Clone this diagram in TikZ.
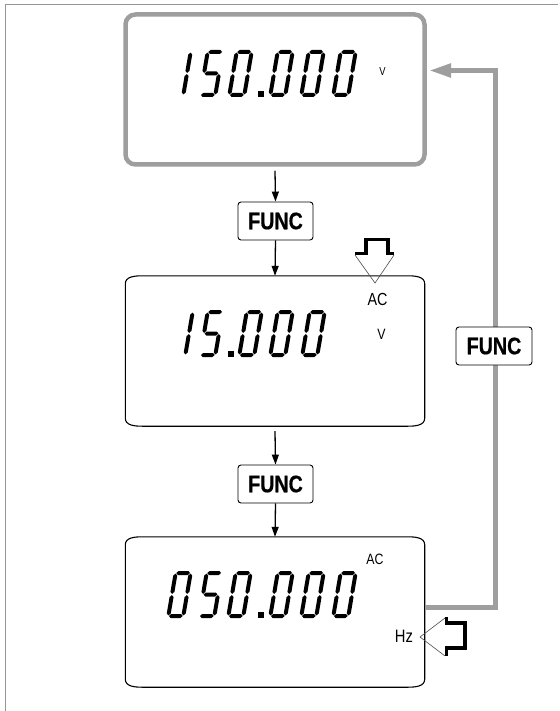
\documentclass[tikz,border=0pt]{standalone}
\usepackage{fontspec}
\newfontfamily\condsans[FakeStretch=0.82]{Liberation Sans}
\newfontfamily\condbold[FakeStretch=0.82,FakeBold=0.5]{Liberation Sans Bold}
\usetikzlibrary{arrows.meta}
\definecolor{framegray}{RGB}{150,150,150}
\definecolor{linegray}{RGB}{158,158,158}
% seven-segment pieces (upright cell 19 x 47, origin bottom-left, y up)
\newcommand{\segA}{\fill (2.6,45)--(4.6,47)--(14.4,47)--(16.4,45)--(14.4,43)--(4.6,43)--cycle;}
\newcommand{\segG}{\fill (2.6,23.5)--(4.6,25.5)--(14.4,25.5)--(16.4,23.5)--(14.4,21.5)--(4.6,21.5)--cycle;}
\newcommand{\segD}{\fill (2.6,2)--(4.6,4)--(14.4,4)--(16.4,2)--(14.4,0)--(4.6,0)--cycle;}
\newcommand{\segF}{\fill (2,24.1)--(4,26.1)--(4,42.4)--(2,44.4)--(0,42.4)--(0,26.1)--cycle;}
\newcommand{\segE}{\fill (2,2.6)--(4,4.6)--(4,20.9)--(2,22.9)--(0,20.9)--(0,4.6)--cycle;}
\newcommand{\segB}{\fill (17,24.1)--(19,26.1)--(19,42.4)--(17,44.4)--(15,42.4)--(15,26.1)--cycle;}
\newcommand{\segC}{\fill (17,2.6)--(19,4.6)--(19,20.9)--(17,22.9)--(15,20.9)--(15,4.6)--cycle;}
\newcommand{\sevdig}[3]{\begin{scope}[shift={(#1,#2)},y=1pt,xslant=0.17]#3\end{scope}}
\newcommand{\dZero}{\segA\segB\segC\segD\segE\segF}
\newcommand{\dOne}{\segB\segC}
\newcommand{\dFive}{\segA\segF\segG\segC\segD}
\newcommand{\sevdot}[2]{\fill (#1,#2) rectangle ++(6,-6);}
\newcommand{\lcdframe}[1]{\draw[line width=1.1] ([yshift=-8]#1.north west) to[out=90,in=180] ([xshift=17]#1.north west) -- ([xshift=-17]#1.north east) to[out=0,in=90] ([yshift=-8]#1.north east) -- ([yshift=8]#1.south east) to[out=-90,in=0] ([xshift=-17]#1.south east) -- ([xshift=17]#1.south west) to[out=180,in=-90] ([yshift=8]#1.south west) -- cycle;}
\tikzset{
  lcd/.style={minimum width=299, minimum height=150, inner sep=0, draw=none},
  funckey/.style={draw=black, line width=0.9, rounded corners=3, fill=white, minimum width=75, minimum height=38, inner sep=0, font=\condbold\fontsize{24}{24}\selectfont},
  arr/.style={line width=1.3, -{Triangle[length=10pt,width=7pt]}},
  fb/.style={line width=5, draw=linegray, -{Triangle[length=22pt,width=13pt,fill=linegray]}},
  lbl/.style={inner sep=0},
  sigline/.style={line width=3.2, line join=miter},
  hollow/.style={line width=0.6, draw=black!70}
}
\begin{document}
\begin{tikzpicture}[x=1pt,y=-1pt]
\useasboundingbox (0,0) rectangle (559,711);
\fill[white] (0,0) rectangle (559,711);
% frame
\draw[framegray, line width=1] (5,711) -- (5,5) -- (558,5);
% displays
\node[lcd, draw=linegray, line width=4.5, rounded corners=10] (d1) at (275,89.5) {};
\node[lcd] (d2) at (275,351) {};
\node[lcd] (d3) at (275,612) {};
\lcdframe{d2}
\lcdframe{d3}
% keys
\node[funckey] (f1) at (275.5,221) {FUNC};
\node[funckey] (f2) at (275.5,484) {FUNC};
% arrows
\draw[arr] ([yshift=-4]d1.south) -- (f1.north);
\draw[arr] (f1.south) -- (d2.north);
\draw[arr] ([yshift=-5]d2.south) -- (f2.north);
\draw[arr] (f2.south) -- (d3.north);
% feedback loop
\coordinate (fbturnA) at (495,607.5);
\coordinate (fbturnB) at (495,70.5);
\coordinate (fbtip) at (429,70.5);
\draw[fb] ([yshift=4.5]d3.east) -- (fbturnA) -- (fbturnB) -- (fbtip);
\node[funckey, minimum width=76] (f3) at (494,346) {FUNC};
% digits 150.000
\sevdig{166}{97}{\dOne}
\sevdig{198}{97}{\dFive}
\sevdig{227}{97}{\dZero}
\sevdot{258}{97}
\sevdig{268}{97}{\dZero}
\sevdig{299}{97}{\dZero}
\sevdig{331}{97}{\dZero}
% digits 15.000
\sevdig{168}{357}{\dOne}
\sevdig{198}{357}{\dFive}
\sevdot{228}{357}
\sevdig{237}{357}{\dZero}
\sevdig{268}{357}{\dZero}
\sevdig{300}{357}{\dZero}
% digits 050.000
\sevdig{166}{618}{\dZero}
\sevdig{197}{618}{\dFive}
\sevdig{226}{618}{\dZero}
\sevdot{258}{618}
\sevdig{268}{618}{\dZero}
\sevdig{299}{618}{\dZero}
\sevdig{331}{618}{\dZero}
% unit labels
\node[lbl, font=\condsans\fontsize{11.5}{11.5}\selectfont] (v1) at (382.5,72) {V};
\node[lbl, font=\condsans\fontsize{17.5}{17.5}\selectfont] (ac2) at (377.5,299) {AC};
\node[lbl, font=\condsans\fontsize{15}{15}\selectfont] (v2) at (381.5,334) {V};
\node[lbl, font=\condsans\fontsize{15}{15}\selectfont] (ac3) at (375,559) {AC};
\node[lbl, font=\condsans\fontsize{18}{18}\selectfont] (hz) at (404,636) {Hz};
% AC signal symbol
\draw[hollow] (355,255) -- (375,283) -- (394,255);
\draw[sigline] (355,253.5) -- (366,253.5) -- (366,239.5) -- (388,239.5) -- (388,253.5) -- (394,253.5);
% Hz signal symbol
\draw[hollow] (445,618) -- (420,637) -- (445,656);
\draw[sigline] (446.5,617) -- (446.5,623) -- (465,623) -- (465,648) -- (446.5,648) -- (446.5,656);
\end{tikzpicture}
\end{document}
